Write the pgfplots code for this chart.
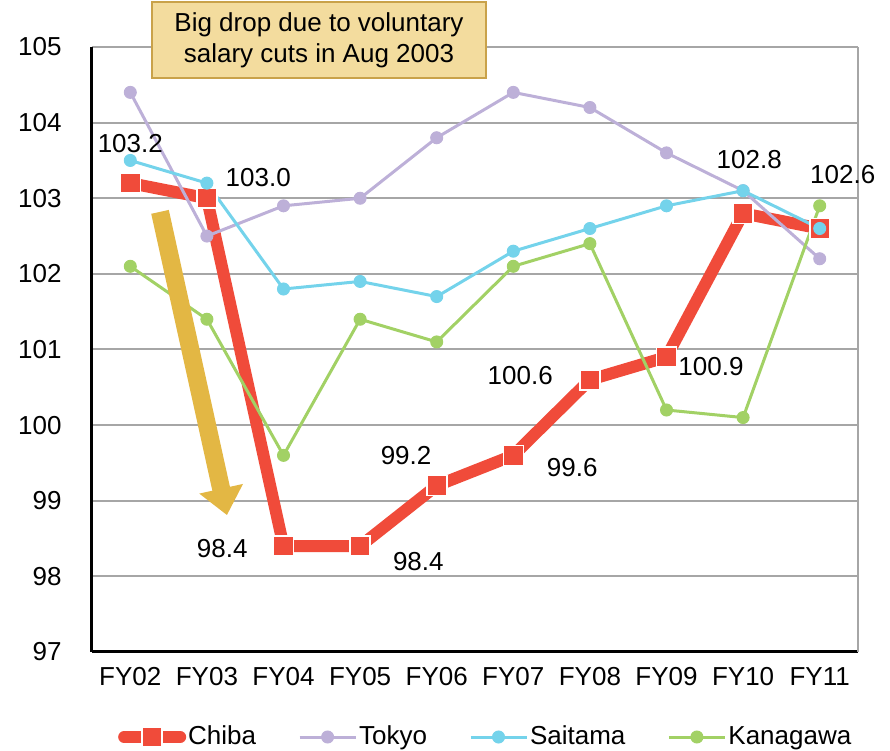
\documentclass[border=0pt]{standalone}
\usepackage{fontspec}
\setmainfont{Liberation Sans}
\usepackage{pgfplots}
\pgfplotsset{compat=1.18}
\usetikzlibrary{arrows.meta}

\definecolor{chiba}{RGB}{240,75,58}
\definecolor{tokyo}{RGB}{189,176,216}
\definecolor{saitama}{RGB}{116,211,235}
\definecolor{kanagawa}{RGB}{162,209,101}
\definecolor{gold}{RGB}{227,183,68}
\definecolor{boxfill}{RGB}{243,220,158}
\definecolor{boxedge}{RGB}{201,162,74}
\definecolor{gridgray}{RGB}{166,166,166}

\newcommand{\lbl}{\fontsize{13}{15.5}\selectfont}

\begin{document}
\begin{tikzpicture}
\begin{axis}[
    scale only axis,
    width=383pt, height=302.5pt,
    xmin=-0.5, xmax=9.5,
    ymin=97, ymax=105,
    xtick={0,...,9},
    xticklabels={FY02,FY03,FY04,FY05,FY06,FY07,FY08,FY09,FY10,FY11},
    ytick={97,...,105},
    major tick length=0pt,
    ymajorgrids,
    grid style={gridgray, line width=1pt},
    axis x line*=bottom, axis y line*=left,
    axis line style={black, line width=1.5pt, -},
    ticklabel style={font=\lbl},
    xticklabel style={inner sep=0pt, yshift=-7.5pt},
    yticklabel style={inner sep=0pt, xshift=-15pt},
    /pgf/number format/assume math mode=true,
    clip=false,
    legend columns=4,
    legend style={at={(0.514,-0.1405)}, anchor=center, draw=none, font=\lbl,
        nodes={inner xsep=1pt},
        /tikz/every even column/.append style={column sep=20pt}},
    legend image code/.code={\draw[mark repeat=2,mark phase=2,#1]
        plot coordinates {(0pt,0pt) (14pt,0pt) (28pt,0pt)};},
]
\coordinate (ll) at (rel axis cs:0,0);
\coordinate (ur) at (rel axis cs:1,1);
\draw[gridgray, line width=1pt] (rel axis cs:1,0) -- (rel axis cs:1,1);

% Chiba
\addplot[chiba, line width=6pt, line cap=round, mark=square*, mark size=5pt,
    mark options={fill=chiba, draw=white, line width=0.8pt, solid}] coordinates {
    (0,103.2) (1,103.0) (2,98.4) (3,98.4) (4,99.2)
    (5,99.6) (6,100.6) (7,100.9) (8,102.8) (9,102.6)
};
\addlegendentry{Chiba}
% Tokyo
\addplot[tokyo, line width=1.5pt, mark=*, mark size=3pt,
    mark options={fill=tokyo, line width=0.5pt, solid}] coordinates {
    (0,104.4) (1,102.5) (2,102.9) (3,103.0) (4,103.8)
    (5,104.4) (6,104.2) (7,103.6) (8,103.1) (9,102.2)
};
\addlegendentry{Tokyo}
% Saitama
\addplot[saitama, line width=1.5pt, mark=*, mark size=3pt,
    mark options={fill=saitama, line width=0.5pt, solid}] coordinates {
    (0,103.5) (1,103.2) (2,101.8) (3,101.9) (4,101.7)
    (5,102.3) (6,102.6) (7,102.9) (8,103.1) (9,102.6)
};
\addlegendentry{Saitama}
% Kanagawa
\addplot[kanagawa, line width=1.5pt, mark=*, mark size=3pt,
    mark options={fill=kanagawa, line width=0.5pt, solid}] coordinates {
    (0,102.1) (1,101.4) (2,99.6) (3,101.4) (4,101.1)
    (5,102.1) (6,102.4) (7,100.2) (8,100.1) (9,102.9)
};
\addlegendentry{Kanagawa}

% arrow and note
\draw[gold, line width=9pt, -{Triangle[width=21.5pt,length=13.5pt]}]
    (axis cs:0.388,102.82) -- (axis cs:1.262,98.81);
\node[fill=boxfill, draw=boxedge, line width=0.75pt, minimum width=167pt,
    minimum height=38pt, align=center, font=\lbl, inner sep=2pt]
    at (axis cs:2.463,105.093) {Big drop due to voluntary\\salary cuts in Aug 2003};

% Chiba value labels
\node[font=\lbl] at (axis cs:0,103.72) {103.2};
\node[font=\lbl] at (axis cs:1.67,103.27) {103.0};
\node[font=\lbl] at (axis cs:1.20,98.37) {98.4};
\node[font=\lbl] at (axis cs:3.76,98.20) {98.4};
\node[font=\lbl] at (axis cs:3.60,99.60) {99.2};
\node[font=\lbl] at (axis cs:5.77,99.44) {99.6};
\node[font=\lbl] at (axis cs:5.09,100.66) {100.6};
\node[font=\lbl] at (axis cs:7.58,100.77) {100.9};
\node[font=\lbl] at (axis cs:8.08,103.51) {102.8};
\node[font=\lbl] at (axis cs:9.30,103.32) {102.6};
\end{axis}
\pgfresetboundingbox
\path ([shift={(-46pt,-49.5pt)}]ll) rectangle ([shift={(16pt,23.5pt)}]ur);
\end{tikzpicture}
\end{document}
